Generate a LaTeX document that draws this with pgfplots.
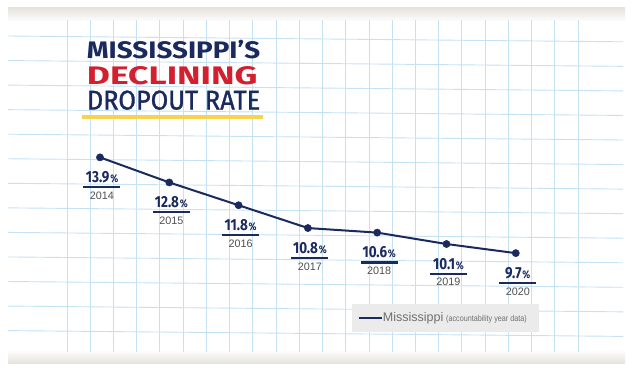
\documentclass[border=0pt]{standalone}
\usepackage{pgfplots}
\pgfplotsset{compat=1.18}
\usepackage{pgfplotstable}
\usepackage{graphicx}
\usepackage{fontspec}
\setmainfont{Liberation Sans}
\newfontfamily\firatitle{Fira Sans}
\newfontfamily\firamed[FakeBold=1.2]{Fira Sans}
\newfontfamily\firacond[FakeStretch=0.84]{Fira Sans}
\newfontfamily\condsans[FakeStretch=0.85]{Liberation Sans}
\definecolor{navy}{HTML}{1B2A5E}
\definecolor{msred}{HTML}{D2202F}
\definecolor{myellow}{HTML}{F6D353}
\definecolor{gridblue}{HTML}{C4E2F3}
\definecolor{yeargray}{HTML}{505050}
\definecolor{leggray}{HTML}{EBEBEB}
\definecolor{legtext}{HTML}{707070}
\definecolor{bandgray}{HTML}{E6E4DF}

\newcommand{\lbl}[2]{\vbox{\offinterlineskip\halign{\hfil##\hfil\cr
 \textcolor{navy}{\firacond\bfseries\fontsize{16bp}{16bp}\selectfont #1\kern0.8bp{\fontsize{11bp}{11bp}\selectfont\%}}\cr
 \noalign{\kern3bp}
 \textcolor{navy}{\rule{37bp}{2.2bp}}\cr
 \noalign{\kern3.5bp}
 \textcolor{yeargray}{\fontsize{10.8bp}{11bp}\selectfont #2}\cr}}}

\pgfplotstableread{
x y year
0 13.9 2014
1 12.8 2015
2 11.8 2016
3 10.8 2017
4 10.6 2018
5 10.1 2019
6 9.7 2020
}\datatab

\begin{document}
\begin{tikzpicture}
\begin{scope}[x=1bp,y=-1bp,shift={(0,376bp)}]
\useasboundingbox (0,0) rectangle (636,376);
\fill[white] (0,0) rectangle (636,376);
% paper edges
\shade[top color=bandgray, bottom color=white!90!bandgray] (8,8) rectangle (625,21);
\shade[top color=white!90!bandgray, bottom color=bandgray] (8,351) rectangle (625,363);
% grid
\foreach \k in {0,...,12}
  \draw[gridblue, line width=0.9bp] (8,{36+24.55*\k}) -- (623,{41.8+24.55*\k});
\foreach \k in {0,...,22}
  \draw[gridblue, line width=0.9bp] ({67+23.23*\k},20) -- ({67+23.23*\k},352);
% title
\node[anchor=base west, inner sep=0pt] at (86.7,58.3) {\resizebox{173.3bp}{18.3bp}{\color{navy}\firatitle\bfseries MISSISSIPPI’S}};
\node[anchor=base west, inner sep=0pt] at (86.7,84) {\resizebox{170.6bp}{18bp}{\color{msred}\firatitle\bfseries DECLINING}};
\node[anchor=base west, inner sep=0pt] at (86.7,109.5) {\resizebox{173.3bp}{19bp}{\color{navy}\firamed DROPOUT RATE}};
\fill[myellow] (81.7,115.2) rectangle (263.3,118.5);
\end{scope}

\begin{axis}[at={(0,0)}, anchor=south west, scale only axis,
  width=636bp, height=376bp,
  xmin=-1.443, xmax=7.735, ymin=4.312, ymax=20.80,
  axis lines=none, clip=false,
  legend style={at={(0.553,0.1915)}, anchor=north west, fill=leggray, draw=none,
    inner xsep=6bp, inner ysep=8.5bp, nodes={inner sep=0pt},
    /tikz/every even column/.append style={column sep=6bp}},
  legend cell align=left,
  legend image code/.code={\draw[navy, line width=2bp] (0bp,0bp) -- (23bp,0bp);},
]
\addplot[navy, line width=2bp, mark=*, mark size=3.6bp,
  mark options={fill=navy, draw=navy, line width=0.5bp},
  point meta=explicit symbolic,
  visualization depends on={y \as \myval},
  nodes near coords={\lbl{\pgfmathprintnumber[fixed, fixed zerofill, precision=1, assume math mode=true]{\myval}}{\pgfplotspointmeta}},
  every node near coord/.append style={anchor=north, inner sep=0pt, yshift=-14bp, xshift=2bp},
] table[x=x, y=y, meta=year] {\datatab};
\addlegendentry{\textcolor{legtext}{\fontsize{12.5bp}{13bp}\selectfont Mississippi} \textcolor{legtext}{\condsans\fontsize{8.5bp}{9bp}\selectfont (accountability year data)}\kern6bp}
\end{axis}
\end{tikzpicture}
\end{document}
